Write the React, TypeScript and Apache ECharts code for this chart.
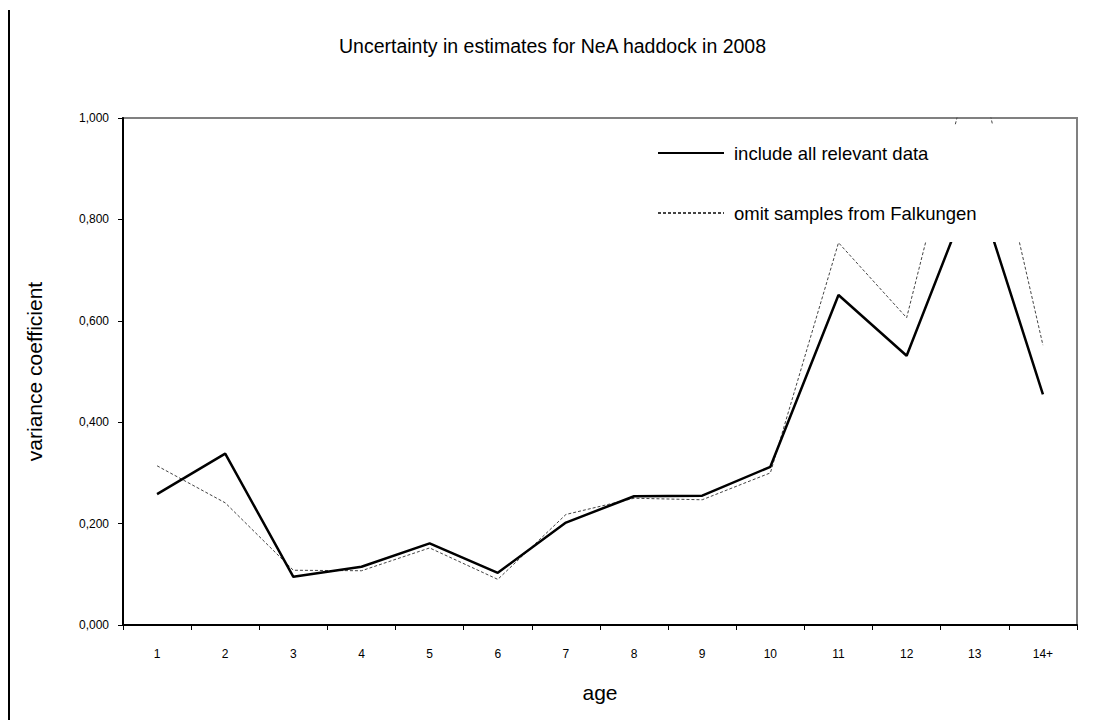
import React, { useEffect, useRef } from "react";
import * as echarts from "echarts";

const categories = ["1", "2", "3", "4", "5", "6", "7", "8", "9", "10", "11", "12", "13", "14+"];
const includeAll = [0.258, 0.338, 0.095, 0.115, 0.161, 0.103, 0.202, 0.254, 0.255, 0.312, 0.651, 0.531, 0.875, 0.455];
const omitFalkungen = [0.314, 0.241, 0.108, 0.107, 0.152, 0.090, 0.218, 0.250, 0.247, 0.300, 0.754, 0.606, 1.14, 0.552];
const yTickLabels = ["0,000", "0,200", "0,400", "0,600", "0,800", "1,000"];
const seriesNames = ["include all relevant data", "omit samples from Falkungen"];

const FONT = "'Liberation Sans', Arial, sans-serif";

export default function App() {
  const ref = useRef<HTMLDivElement>(null);
  useEffect(() => {
    if (!ref.current) return;
    const chart = echarts.init(ref.current, undefined, { renderer: "svg" });
    chart.setOption({
      animation: false,
      backgroundColor: "#ffffff",
      title: {
        text: "Uncertainty in estimates for NeA haddock in 2008",
        left: "center",
        top: 31,
        textStyle: { fontFamily: FONT, fontSize: 19.5, fontWeight: "normal", color: "#000" },
      },
      grid: {
        left: 123,
        top: 118,
        width: 954,
        height: 507,
        show: true,
        borderColor: "#808080",
        borderWidth: 2,
        backgroundColor: "transparent",
      },
      legend: {
        orient: "vertical",
        left: 640,
        top: 125,
        itemWidth: 66,
        itemHeight: 20,
        itemGap: 40,
        padding: [18, 70, 19, 17],
        backgroundColor: "#ffffff",
        selectedMode: false,
        itemStyle: { opacity: 0 },
        textStyle: { fontFamily: FONT, fontSize: 18.5, color: "#000", lineHeight: 20, padding: [0, 0, 0, 5] },
        data: seriesNames,
      },
      xAxis: {
        type: "category",
        data: categories,
        boundaryGap: true,
        name: "age",
        nameLocation: "middle",
        nameGap: 57,
        nameTextStyle: { fontFamily: FONT, fontSize: 21, color: "#000" },
        axisLine: { lineStyle: { color: "#000", width: 2 } },
        axisTick: { show: true, length: 5, lineStyle: { color: "#000", width: 1 } },
        axisLabel: { fontFamily: FONT, fontSize: 12, color: "#000", margin: 23 },
        splitLine: { show: false },
      },
      yAxis: {
        type: "value",
        min: 0,
        max: 1,
        interval: 0.2,
        name: "variance coefficient",
        nameLocation: "middle",
        nameGap: 78,
        nameTextStyle: { fontFamily: FONT, fontSize: 21, color: "#000" },
        axisLine: { show: true, lineStyle: { color: "#000", width: 2 } },
        axisTick: { show: true, length: 5, lineStyle: { color: "#000", width: 1 } },
        axisLabel: {
          fontFamily: FONT,
          fontSize: 12,
          color: "#000",
          margin: 14,
          formatter: (v: number) => yTickLabels[Math.round(v / 0.2)] ?? "",
        },
        splitLine: { show: false },
      },
      series: [
        {
          name: seriesNames[0],
          type: "line",
          data: includeAll,
          symbol: "none",
          clip: true,
          z: 3,
          lineStyle: { color: "#000", width: 2.5, type: "solid" },
          itemStyle: { color: "#000" },
        },
        {
          name: seriesNames[1],
          type: "line",
          data: omitFalkungen,
          symbol: "none",
          clip: true,
          z: 2,
          lineStyle: { color: "#444", width: 1, type: [3, 2] },
          itemStyle: { color: "#444" },
        },
      ],
      graphic: [
        {
          type: "line",
          shape: { x1: 9, y1: 10, x2: 9, y2: 720 },
          style: { stroke: "#000", lineWidth: 2 },
        },
      ],
    });
    return () => chart.dispose();
  }, []);
  return (
    <div
      ref={ref}
      style={{ position: "absolute", left: 0, top: 0, width: 1105, height: 720 }}
    />
  );
}
